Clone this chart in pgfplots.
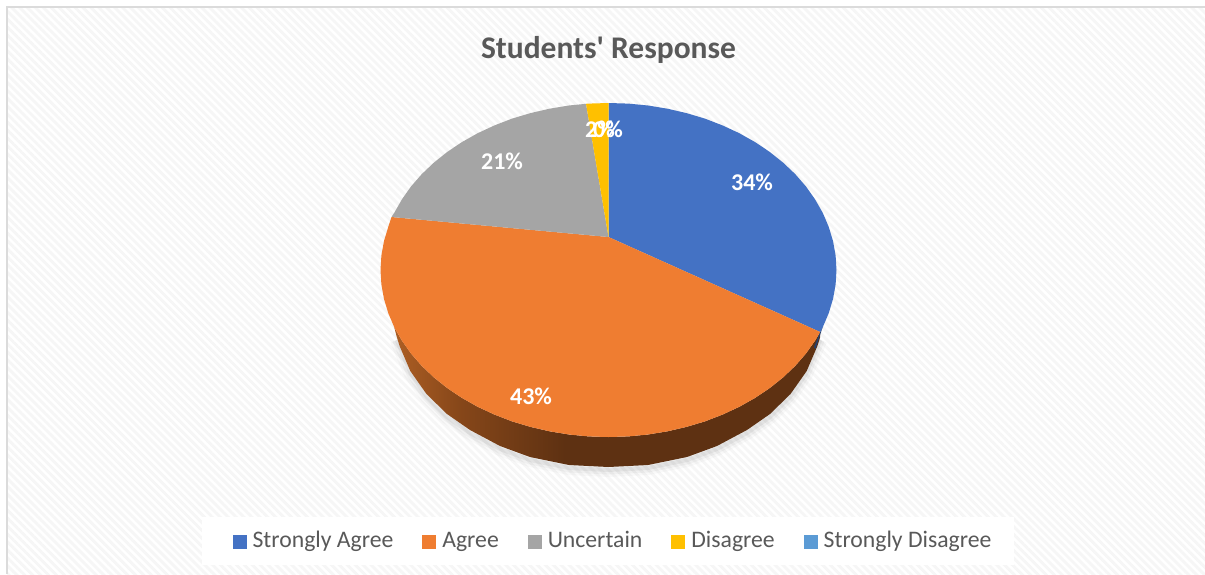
\documentclass[border=0pt]{standalone}
\usepackage{fontspec}
\setmainfont{Carlito}[Ligatures=TeXOff]
\usepackage{pgfplots}
\pgfplotsset{compat=1.18}
\usetikzlibrary{patterns.meta}
\definecolor{sablue}{HTML}{4472C4}
\definecolor{agorange}{HTML}{EF7D31}
\definecolor{ungrey}{HTML}{A5A5A5}
\definecolor{digold}{HTML}{FFC000}
\definecolor{sdblue}{HTML}{5B9BD5}
\definecolor{txt}{HTML}{595959}
\definecolor{hatch}{HTML}{F6F6F6}
\definecolor{wallA}{HTML}{AC5E24}
\definecolor{wallB}{HTML}{854619}
\definecolor{wallC}{HTML}{5E3112}
% side of the pie, stops run over the middle 50bp = path bounding box
\pgfdeclarehorizontalshading{wall}{100bp}{color(0bp)=(wallA); color(25bp)=(wallA); color(33bp)=(wallB); color(45bp)=(wallC); color(100bp)=(wallC)}
\begin{document}
\begin{tikzpicture}
\begin{axis}[
    width=1205pt, height=574pt, scale only axis,
    xmin=0, xmax=1205, ymin=0, ymax=574, y dir=reverse,
    hide axis,
    title={Students' Response},
    title style={at={(0.505,0.902)}, anchor=center, text=txt, font=\fontsize{31.5}{34}\selectfont\bfseries},
    legend columns=-1,
    legend cell align=left,
    legend style={at={(axis cs:613,542)}, anchor=center, draw=none, fill=none,
        font=\fontsize{23.7}{26}\selectfont, text=txt,
        inner xsep=21pt, inner ysep=6pt,
        nodes={text height=16pt, text depth=5pt},
        /tikz/every even column/.append style={column sep=27pt}},
    legend image code/.code={\fill[#1] (0pt,-7pt) rectangle (14pt,7pt); \path (18pt,0pt);},
]
% page and hatched chart area
\fill[white] (axis cs:0,0) rectangle (axis cs:1205,574);
\fill[pattern={Lines[angle=-45,distance=5.6pt,line width=2.8pt]}, pattern color=hatch] (axis cs:7,7) rectangle (axis cs:1205,574);
\draw[line width=2.5pt, color=black!14] (axis cs:7,574) -- (axis cs:7,7) -- (axis cs:1205,7);
% white panel behind the legend
\fill[white] (axis cs:202,517) rectangle (axis cs:1014,565);

% soft shadow under the pie
\foreach \w/\o in {14pt/0.025, 9pt/0.035, 4pt/0.05} {
  \edef\temp{\noexpand\addplot[forget plot, no markers, draw=black, draw opacity=\o, line width=\w, yshift=-3pt] coordinates {
    (396.8,337) (400,345) (411,371) (427,394) (447,414) (470,430) (500,446) (530,457) (569,465) (608.5,467)
    (648,465) (687,457) (717,446) (747,430) (770,414) (790,394) (806,371) (817,345) (820.2,337)};}
  \temp
}

% side wall
\addplot[forget plot, no markers, draw=none, shading=wall] coordinates {
    (394.2,327.1) (401.9,340.6) (411.0,353.5) (421.7,365.8) (433.8,377.3) (447.3,388.1) (461.9,397.9)
    (477.7,406.8) (494.5,414.6) (512.1,421.4) (530.5,426.9) (549.5,431.3) (568.9,434.5) (588.6,436.4)
    (608.5,437) (628.4,436.4) (648.1,434.5) (667.5,431.3) (686.5,426.9) (704.9,421.4) (722.5,414.6)
    (739.3,406.8) (755.1,397.9) (769.7,388.1) (783.2,377.3) (795.3,365.8) (806.0,353.5) (815.1,340.6) (820.2,332)
    (820.2,337) (817.4,346) (806.7,371) (790.5,394) (770,414) (747,430) (717,446) (687,457) (648,465) (608.5,467)
    (569,465) (530,457) (500,446) (470,430) (447,414) (426.5,394) (410.3,371) (399.6,346) (396.8,337)
} -- cycle;
\addplot[forget plot, no markers, draw=none, fill=sablue!55!black] coordinates {
    (820.2,332) (823,326) (815.5,349) (814,347)
} -- cycle;

% Strongly Agree 34
\addplot[no markers, draw=none, fill=sablue] coordinates {
    (608.5,237) (608.5,103) (628.4,103.6) (648.1,105.5) (667.5,108.7) (686.5,113.1) (704.9,118.6)
    (722.5,125.4) (739.3,133.2) (755.1,142.1) (769.7,151.9) (783.2,162.7) (795.3,174.2) (806.0,186.5)
    (815.1,199.4) (822.8,212.9) (828.7,226.8) (833.0,241) (835.6,255.4) (836.5,270) (835.6,284.6)
    (833.0,299) (828.7,313.2) (822.8,327.1) (820.2,332)
} -- cycle;
% Agree 43
\addplot[no markers, draw=none, fill=agorange] coordinates {
    (608.5,237) (820.2,332) (815.1,340.6) (806.0,353.5) (795.3,365.8) (783.2,377.3) (769.7,388.1)
    (755.1,397.9) (739.3,406.8) (722.5,414.6) (704.9,421.4) (686.5,426.9) (667.5,431.3) (648.1,434.5)
    (628.4,436.4) (608.5,437) (588.6,436.4) (568.9,434.5) (549.5,431.3) (530.5,426.9) (512.1,421.4)
    (494.5,414.6) (477.7,406.8) (461.9,397.9) (447.3,388.1) (433.8,377.3) (421.7,365.8) (411.0,353.5)
    (401.9,340.6) (394.2,327.1) (388.3,313.2) (384.0,299) (381.4,284.6) (380.5,270) (381.4,255.4)
    (384,241) (388.3,226.8) (391.5,217)
} -- cycle;
% Uncertain 21
\addplot[no markers, draw=none, fill=ungrey] coordinates {
    (608.5,237) (391.5,217) (394.2,212.9) (401.9,199.4) (411,186.5) (421.7,174.2) (433.8,162.7)
    (447.3,151.9) (461.9,142.1) (477.7,133.2) (494.5,125.4) (512.1,118.6) (530.5,113.1) (549.5,108.7)
    (568.9,105.5) (586,103.8)
} -- cycle;
% Disagree 2
\addplot[no markers, draw=none, fill=digold] coordinates {
    (608.5,237) (586,103.8) (588.6,103.6) (608.5,103)
} -- cycle;
% Strongly Disagree 0
\addplot[no markers, draw=none, fill=sdblue] coordinates {
    (608.5,237) (608.5,237)
} -- cycle;
\legend{Strongly Agree, Agree, Uncertain, Disagree, Strongly Disagree}

\foreach \x/\y/\t in {752/182/34, 531/396/43, 502/161/21, 600/129/2, 608/129/0} {
  \edef\temp{\noexpand\node[text=white, font=\noexpand\fontsize{24}{26}\noexpand\selectfont\noexpand\bfseries] at (axis cs:\x,\y) {\t\noexpand\%};}
  \temp
}
\end{axis}
\end{tikzpicture}
\end{document}
